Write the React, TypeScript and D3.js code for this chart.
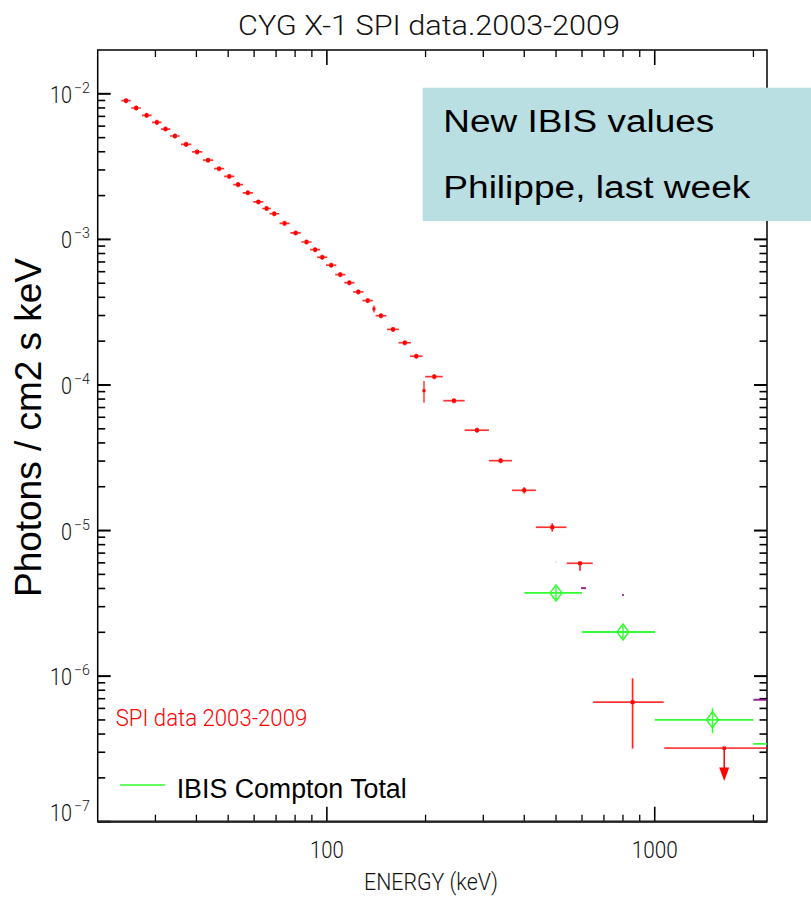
import React from "react";
import * as d3 from "d3";

// ---- SPI spectrum (red): bin centre, bin edges, flux, fractional errors ----
const spiEnergy = [24.4, 26.2, 28.2, 30.3, 32.2, 34.4, 37.2, 40.2, 43.4, 46.9, 50.4, 53.6, 57.4, 61.8, 65.5, 69.1, 74.3, 80.3, 86.7, 92.1, 96.8, 103.1, 109.9, 117.1, 124.7, 133.2, 146.2, 159.1, 172.8, 187.4, 212.6, 244.1, 287, 338.8, 400, 486.9, 591.6, 856];
const spiLo = [23.6, 25.3, 27.3, 29.3, 31.2, 33.2, 35.9, 38.8, 41.9, 45.3, 48.6, 51.8, 55.4, 59.6, 63.5, 66.8, 71.7, 77.4, 83.6, 88.9, 93.4, 99.4, 106.0, 113.0, 120.3, 128.4, 140.8, 152.6, 165.5, 179.4, 199.4, 226.5, 263, 312, 367, 434, 539, 649];
const spiHi = [25.2, 27.1, 29.2, 31.3, 33.3, 35.6, 38.6, 41.7, 45.0, 48.6, 52.2, 55.5, 59.5, 64.0, 67.5, 71.6, 77.0, 83.2, 89.9, 95.4, 100.3, 106.9, 114.0, 121.4, 129.3, 138.2, 151.8, 165.9, 180.4, 195.8, 225.7, 263.2, 312, 367, 434, 538, 647, 1065];
const spiFlux = [8.97e-3, 7.99e-3, 7.12e-3, 6.37e-3, 5.73e-3, 5.13e-3, 4.5e-3, 3.99e-3, 3.5e-3, 3.06e-3, 2.71e-3, 2.38e-3, 2.09e-3, 1.81e-3, 1.63e-3, 1.5e-3, 1.29e-3, 1.107e-3, 9.6e-4, 8.5e-4, 7.54e-4, 6.65e-4, 5.73e-4, 5.04e-4, 4.36e-4, 3.8e-4, 2.99e-4, 2.41e-4, 1.95e-4, 1.576e-4, 1.141e-4, 7.8e-5, 4.89e-5, 3.02e-5, 1.89e-5, 1.054e-5, 5.96e-6, 6.62e-7];
const spiErrLo = [0.04, 0.04, 0.04, 0.04, 0.04, 0.04, 0.04, 0.04, 0.04, 0.04, 0.04, 0.04, 0.04, 0.04, 0.04, 0.04, 0.04, 0.04, 0.04, 0.04, 0.04, 0.04, 0.04, 0.04, 0.04, 0.04, 0.04, 0.04, 0.04, 0.04, 0.04, 0.04, 0.04, 0.04, 0.05, 0.067, 0.11, 0.52];
const spiErrHi = [0.04, 0.04, 0.04, 0.04, 0.04, 0.04, 0.04, 0.04, 0.04, 0.04, 0.04, 0.04, 0.04, 0.04, 0.04, 0.04, 0.04, 0.04, 0.04, 0.04, 0.04, 0.04, 0.04, 0.04, 0.04, 0.04, 0.04, 0.04, 0.04, 0.04, 0.04, 0.04, 0.04, 0.04, 0.05, 0.065, 0.02, 0.46];

// Narrow-band SPI points (no bin width shown)
const spiLineEnergy = [139.2, 197.8];
const spiLineFlux = [3.33e-4, 9.14e-5];
const spiLineLo = [3.15e-4, 7.56e-5];
const spiLineHi = [3.52e-4, 1.066e-4];

// SPI upper limit in the last bin
const ulEnergy = [1629];
const ulLo = [1069];
const ulHi = [2500];
const ulFlux = [3.2e-7];
const ulArrowTo = [1.9e-7];

// ---- IBIS Compton (green) ----
const ibisEnergy = [500, 800, 1500, 2600];
const ibisLo = [400, 600, 1000, 2000];
const ibisHi = [600, 1000, 2000, 3200];
const ibisFlux = [3.73e-6, 2.01e-6, 5.01e-7, 3.42e-7];
const ibisFluxLo = [3.35e-6, 1.8e-6, 4.06e-7, 3.1e-7];
const ibisFluxHi = [4.15e-6, 2.24e-6, 6.02e-7, 3.8e-7];

// ---- second IBIS set (purple) ----
const ibis2Lo = [499, 596, 795, 2000];
const ibis2Hi = [501, 617, 805, 3000];
const ibis2Flux = [6.06e-6, 4.02e-6, 3.61e-6, 6.87e-7];

// ---- axis labels ----
const xTickLabels = [100, 1000];
const yDecades = [-7, -6, -5, -4, -3, -2];

const W = 811;
const H = 897;
const M = { left: 97.7, right: 767, top: 50, bottom: 821.7 };

const RED = "#ff0000";
const GREEN = "#33ff33";
const PURPLE = "#800080";
const HERSHEY = "Roboto, 'DejaVu Sans', sans-serif";
const ARIAL = "'Liberation Sans', Arial, sans-serif";

export default function App() {
  const x = d3.scaleLog().domain([20, 2200]).range([M.left, M.right]);
  const y = d3.scaleLog().domain([1e-7, 2e-2]).range([M.bottom, M.top]);

  // tick positions on the log axes
  const xMinor: number[] = [];
  [10, 100, 1000].forEach((d) => {
    for (let k = 2; k <= 9; k++) {
      const v = d * k;
      if (v > 20 && v < 2200) xMinor.push(v);
    }
  });
  const xMajor = [100, 1000];
  const yMinor: number[] = [];
  for (let e = -7; e <= -2; e++) {
    for (let k = 2; k <= 9; k++) {
      const v = k * Math.pow(10, e);
      if (v < 2e-2) yMinor.push(v);
    }
  }
  const yMajor = yDecades.map((e) => Math.pow(10, e));

  return (
    <svg
      width={W}
      height={H}
      style={{ position: "absolute", left: 0, top: 0, background: "#fff" }}
    >
      <defs>
        <clipPath id="plot-area">
          <rect x={M.left} y={M.top} width={M.right - M.left} height={M.bottom - M.top} />
        </clipPath>
      </defs>

      {/* title */}
      <text
        x={429}
        y={35}
        textAnchor="middle"
        fontFamily={HERSHEY}
        fontWeight={300}
        fontSize={27}
        textLength={382}
        lengthAdjust="spacingAndGlyphs"
        fill="#111"
      >
        CYG X-1 SPI data.2003-2009
      </text>

      {/* ticks */}
      <g stroke="#000">
        {xMinor.map((v) => (
          <g key={"xm" + v} strokeWidth={1.3}>
            <line x1={x(v)} x2={x(v)} y1={M.bottom} y2={M.bottom - 7} />
            <line x1={x(v)} x2={x(v)} y1={M.top} y2={M.top + 7} />
          </g>
        ))}
        {xMajor.map((v) => (
          <g key={"xM" + v} strokeWidth={1.6}>
            <line x1={x(v)} x2={x(v)} y1={M.bottom} y2={M.bottom - 15} />
            <line x1={x(v)} x2={x(v)} y1={M.top} y2={M.top + 15} />
          </g>
        ))}
        {yMinor.map((v) => (
          <g key={"ym" + v} strokeWidth={1.6}>
            <line x1={M.left} x2={M.left + 7.5} y1={y(v)} y2={y(v)} />
            <line x1={M.right} x2={M.right - 7.5} y1={y(v)} y2={y(v)} />
          </g>
        ))}
        {yMajor.map((v) => (
          <g key={"yM" + v} strokeWidth={2}>
            <line x1={M.left} x2={M.left + 13} y1={y(v)} y2={y(v)} />
            <line x1={M.right} x2={M.right - 13} y1={y(v)} y2={y(v)} />
          </g>
        ))}
      </g>

      {/* frame */}
      <rect
        x={M.left}
        y={M.top}
        width={M.right - M.left}
        height={M.bottom - M.top}
        fill="none"
        stroke="#000"
        strokeWidth={1.5}
      />
      <line x1={M.left} x2={M.right} y1={M.bottom} y2={M.bottom} stroke="#222" strokeWidth={2.2} />

      {/* data */}
      <g clipPath="url(#plot-area)">
        {/* SPI binned spectrum */}
        {spiEnergy.map((e, i) => {
          const cx = x(e);
          const cy = y(spiFlux[i]);
          return (
            <g key={"spi" + i} stroke={RED}>
              <line
                x1={x(spiLo[i])}
                x2={x(spiHi[i])}
                y1={cy}
                y2={cy}
                strokeWidth={1.7}
                strokeOpacity={0.8}
              />
              <line
                x1={cx}
                x2={cx}
                y1={y(spiFlux[i] * (1 - spiErrLo[i]))}
                y2={y(spiFlux[i] * (1 + spiErrHi[i]))}
                strokeWidth={1.7}
                strokeOpacity={0.85}
              />
              <rect x={cx - 1.9} y={cy - 1.9} width={3.8} height={3.8} fill={RED} stroke="none" />
            </g>
          );
        })}

        {/* narrow SPI points */}
        {spiLineEnergy.map((e, i) => (
          <g key={"spl" + i} stroke={RED}>
            <line
              x1={x(e)}
              x2={x(e)}
              y1={y(spiLineLo[i])}
              y2={y(spiLineHi[i])}
              strokeWidth={1.6}
              strokeOpacity={0.7}
            />
            <rect x={x(e) - 1.5} y={y(spiLineFlux[i]) - 1.5} width={3} height={3} fill={RED} stroke="none" />
          </g>
        ))}

        {/* SPI upper limit */}
        {ulEnergy.map((e, i) => {
          const cx = x(e);
          const cy = y(ulFlux[i]);
          const ty = y(ulArrowTo[i]);
          return (
            <g key={"ul" + i}>
              <line x1={x(ulLo[i])} x2={x(ulHi[i])} y1={cy} y2={cy} stroke={RED} strokeWidth={1.6} strokeOpacity={0.75} />
              <line x1={cx} x2={cx} y1={cy} y2={ty - 12} stroke={RED} strokeWidth={1.5} />
              <path d={`M${cx - 5},${ty - 13.5} L${cx + 5},${ty - 13.5} L${cx},${ty} Z`} fill={RED} />
              <rect x={cx - 1.7} y={cy - 1.7} width={3.4} height={3.4} fill={RED} />
            </g>
          );
        })}

        {/* IBIS Compton */}
        {ibisEnergy.map((e, i) => {
          const cx = x(e);
          const cy = y(ibisFlux[i]);
          return (
            <g key={"ib" + i} stroke={GREEN} fill="none">
              <line x1={x(ibisLo[i])} x2={x(ibisHi[i])} y1={cy} y2={cy} strokeWidth={1.8} />
              <line x1={cx} x2={cx} y1={y(ibisFluxLo[i])} y2={y(ibisFluxHi[i])} strokeWidth={1.5} />
              <path d={`M${cx},${cy - 8} L${cx + 6},${cy} L${cx},${cy + 8} L${cx - 6},${cy} Z`} strokeWidth={1.5} />
            </g>
          );
        })}

        {/* second IBIS set */}
        {ibis2Flux.map((f, i) => (
          <line
            key={"ib2" + i}
            x1={x(ibis2Lo[i])}
            x2={x(ibis2Hi[i])}
            y1={y(f)}
            y2={y(f)}
            stroke={PURPLE}
            strokeWidth={2}
            strokeOpacity={i === 0 ? 0.4 : 0.85}
          />
        ))}
      </g>

      {/* x tick labels */}
      {xTickLabels.map((v) => (
        <text
          key={"xl" + v}
          x={x(v)}
          y={858}
          textAnchor="middle"
          fontFamily={HERSHEY}
          fontWeight={300}
          fontSize={24}
          textLength={v === 100 ? 33.6 : 46}
          lengthAdjust="spacingAndGlyphs"
          fill="#111"
        >
          {v}
        </text>
      ))}
      <text
        x={431}
        y={890}
        textAnchor="middle"
        fontFamily={HERSHEY}
        fontWeight={300}
        fontSize={23}
        textLength={134}
        lengthAdjust="spacingAndGlyphs"
        fill="#111"
      >
        ENERGY (keV)
      </text>

      {/* y tick labels: 10 with a raised exponent */}
      {yDecades.map((e) => {
        const cy = Math.min(y(Math.pow(10, e)), M.bottom - 10);
        return (
          <text
            key={"yl" + e}
            x={50}
            y={cy + 9}
            fontFamily={HERSHEY}
            fontWeight={300}
            fill="#111"
            fontSize={24.5}
          >
            <tspan textLength={22} lengthAdjust="spacingAndGlyphs">10</tspan>
            <tspan dx={2} dy={-10} fontSize={14} textLength={16} lengthAdjust="spacingAndGlyphs">
              {"\u2212" + Math.abs(e)}
            </tspan>
          </text>
        );
      })}

      {/* y axis title on its own white panel */}
      <rect x={0} y={226} width={58} height={386} fill="#fff" />
      <text
        transform="translate(41,427.5) rotate(-90)"
        textAnchor="middle"
        fontFamily={ARIAL}
        fontSize={37}
        textLength={339}
        lengthAdjust="spacingAndGlyphs"
        fill="#000"
      >
        Photons / cm2 s keV
      </text>

      {/* SPI label */}
      <text
        x={115.7}
        y={725.7}
        fontFamily={HERSHEY}
        fontWeight={300}
        fontSize={24}
        textLength={191.6}
        lengthAdjust="spacingAndGlyphs"
        fill={RED}
      >
        SPI data 2003-2009
      </text>

      {/* legend */}
      <line x1={120} x2={165} y1={785} y2={785} stroke="#66ff66" strokeWidth={2} />
      <text
        x={176.7}
        y={797.7}
        fontFamily={ARIAL}
        fontSize={27}
        textLength={230}
        lengthAdjust="spacingAndGlyphs"
        fill="#000"
      >
        IBIS Compton Total
      </text>

      {/* annotation panel */}
      <rect x={422.7} y={87.7} width={W - 422.7} height={133.3} fill="#b9dfe3" />
      <text
        x={443.3}
        y={132.3}
        fontFamily={ARIAL}
        fontSize={31}
        textLength={271}
        lengthAdjust="spacingAndGlyphs"
        fill="#000"
      >
        New IBIS values
      </text>
      <text
        x={443.3}
        y={197.7}
        fontFamily={ARIAL}
        fontSize={31}
        textLength={307}
        lengthAdjust="spacingAndGlyphs"
        fill="#000"
      >
        Philippe, last week
      </text>
    </svg>
  );
}
